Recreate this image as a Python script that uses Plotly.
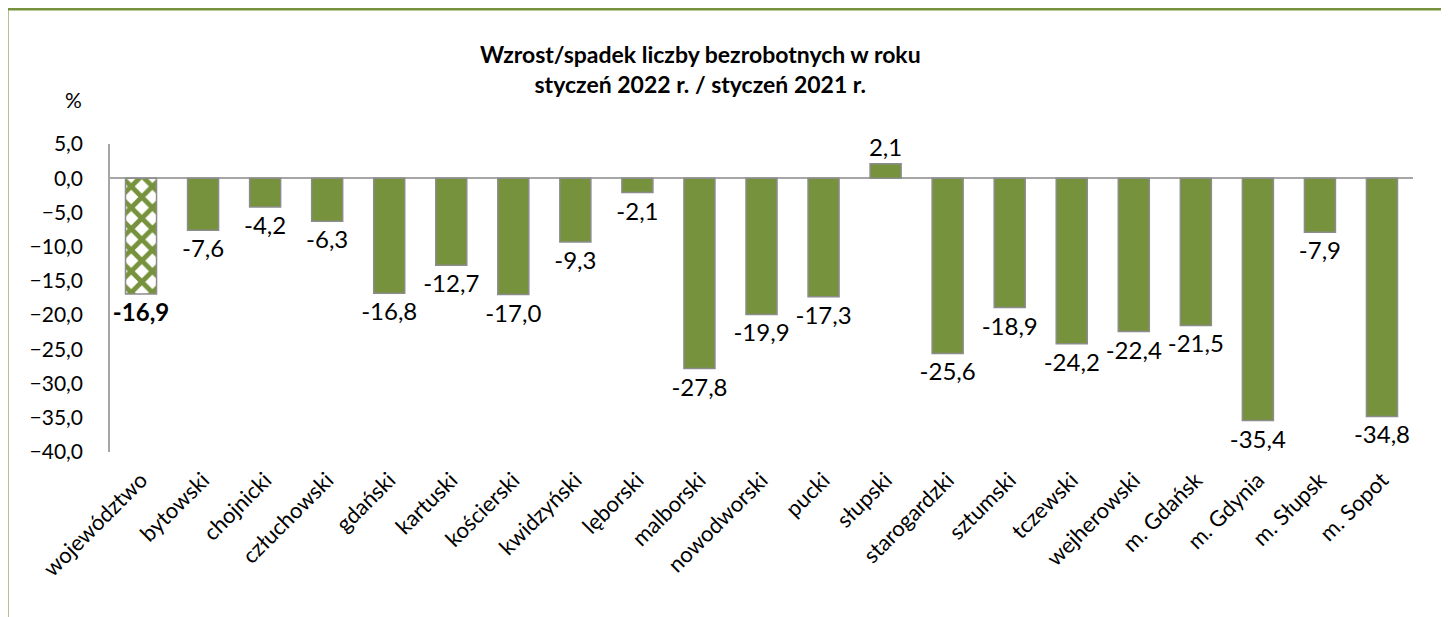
import plotly.graph_objects as go

OLIVE = '#76923C'
EDGE = '#8C8C8C'
AXIS_GREY = '#A6A6A6'
FONT = 'Lato, Carlito, Calibri, sans-serif'

CATEGORIES = ['województwo', 'bytowski', 'chojnicki', 'człuchowski', 'gdański',
              'kartuski', 'kościerski', 'kwidzyński', 'lęborski', 'malborski',
              'nowodworski', 'pucki', 'słupski', 'starogardzki', 'sztumski',
              'tczewski', 'wejherowski', 'm. Gdańsk', 'm. Gdynia', 'm. Słupsk',
              'm. Sopot']
CHANGE = [-16.9, -7.6, -4.2, -6.3, -16.8, -12.7, -17.0, -9.3, -2.1, -27.8,
          -19.9, -17.3, 2.1, -25.6, -18.9, -24.2, -22.4, -21.5, -35.4, -7.9,
          -34.8]
Y_TICKS = [5, 0, -5, -10, -15, -20, -25, -30, -35, -40]

TITLE = 'Wzrost/spadek liczby bezrobotnych w roku<br>styczeń 2022 r. / styczeń 2021 r.'


class ChangeChart:
    def __init__(self):
        self.categories = CATEGORIES
        self.values = CHANGE
        self.fig = go.Figure()

    def _labels(self):
        labels = [f'{v:.1f}'.replace('.', ',') for v in self.values]
        labels[0] = f'<b>{labels[0]}</b>'  # whole region in bold
        return labels

    def _add_bars(self):
        n = len(self.values)
        shapes = ['x'] + [''] * (n - 1)  # chequered bar for the voivodeship
        self.fig.add_trace(go.Bar(
            x=self.categories, y=self.values,
            marker=dict(color=[OLIVE] * n, line=dict(color=EDGE, width=1.5),
                        pattern=dict(shape=shapes, fillmode='replace',
                                     fgcolor=[OLIVE] * n, bgcolor=['white'] * n,
                                     fgopacity=1, size=15, solidity=0.55)),
            text=self._labels(), textposition='outside', constraintext='none',
            textfont=dict(family=FONT, size=24, color='black'),
            cliponaxis=False, showlegend=False,
        ))

    def _style(self):
        self.fig.update_layout(
            width=1441, height=609,  # page body adds 8px on the left and top
            margin=dict(l=102, r=36, t=136, b=165),
            paper_bgcolor='white', plot_bgcolor='white',
            separators=', ',
            bargap=0.5,
            font=dict(family=FONT, size=21, color='black'),
            title=dict(text=TITLE, x=0.453, xref='paper', xanchor='center',
                       y=0.909, yanchor='middle',
                       font=dict(family=FONT, size=23, color='black', weight='bold')),
        )
        self.fig.update_yaxes(
            range=[-40, 5], tickvals=Y_TICKS, tickformat='.1f',
            showgrid=False, showline=True, linecolor=AXIS_GREY, linewidth=1.5,
            zeroline=True, zerolinecolor=AXIS_GREY, zerolinewidth=1.5,
            ticks='', ticklabelstandoff=21, tickfont=dict(size=21),
        )
        self.fig.update_xaxes(
            tickangle=-45, showgrid=False, showline=False, zeroline=False,
            ticks='', ticklabelstandoff=10, tickfont=dict(size=22),
        )
        self.fig.add_annotation(text='%', xref='paper', yref='paper', x=-0.036, y=1.19,
                                showarrow=False, font=dict(size=21))
        # green frame of the original sheet (only the top and left edges are visible)
        self.fig.add_shape(type='line', xref='paper', yref='paper',
                           x0=-0.079, x1=1.1, y0=1.4383, y1=1.4383,
                           line=dict(color=OLIVE, width=3))
        self.fig.add_shape(type='line', xref='paper', yref='paper',
                           x0=-0.079, x1=-0.079, y0=-0.6, y1=1.4383,
                           line=dict(color=OLIVE, width=3))

    def build(self):
        self._add_bars()
        self._style()
        return self.fig


if __name__ == "__main__":
    chart = ChangeChart()
    fig = chart.build()
    fig.write_html("out.html")
